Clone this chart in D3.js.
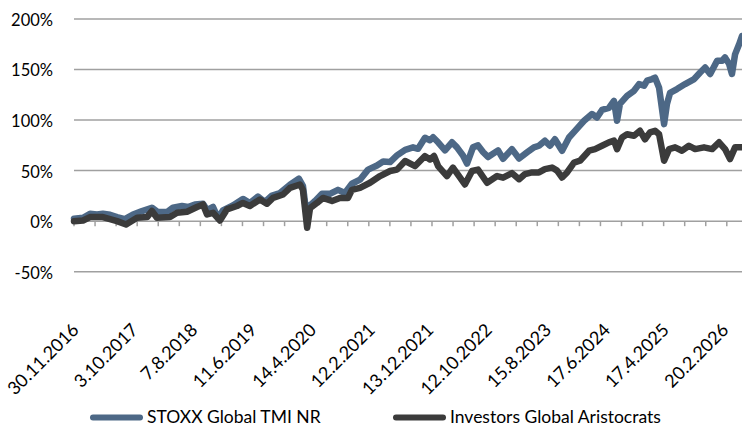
<!DOCTYPE html>
<html>
<head>
<meta charset="utf-8">
<script src="https://cdn.jsdelivr.net/npm/d3@7"></script>
<style>
  html, body { margin: 0; padding: 0; background: #ffffff; }
  svg { display: block; }
  text { font-family: Lato, "Open Sans", sans-serif; fill: #000; }
</style>
</head>
<body>
<div id="chart"></div>
<script>
// ---------- data (cumulative return, %) ----------
const stoxxDates = [
  "2016-11-30","2017-01-16","2017-02-21","2017-03-29","2017-04-29","2017-06-05","2017-07-11","2017-08-21",
  "2017-10-02","2017-11-18","2018-01-08","2018-02-08","2018-03-27","2018-04-27","2018-06-13","2018-07-14",
  "2018-08-19","2018-09-30","2018-10-21","2018-11-21","2018-12-17","2019-01-11","2019-03-04","2019-04-25",
  "2019-05-31","2019-07-12","2019-08-17","2019-09-23","2019-11-03","2019-12-25","2020-02-09","2020-03-01",
  "2020-03-23","2020-04-07","2020-05-03","2020-06-08","2020-07-19","2020-08-30","2020-10-05","2020-11-10",
  "2020-12-22","2021-02-02","2021-03-20","2021-04-21","2021-05-27","2021-07-02","2021-08-13","2021-09-23",
  "2021-10-19","2021-11-24","2021-12-20","2022-01-05","2022-01-31","2022-03-08","2022-04-13","2022-05-09",
  "2022-06-09","2022-06-30","2022-07-31","2022-08-26","2022-09-21","2022-10-17","2022-12-08","2023-01-03",
  "2023-02-18","2023-03-27","2023-05-07","2023-06-12","2023-07-08","2023-08-08","2023-09-03","2023-09-29",
  "2023-11-05","2023-12-11","2024-01-11","2024-02-27","2024-04-08","2024-05-04","2024-05-30","2024-07-05",
  "2024-07-31","2024-08-16","2024-08-31","2024-10-07","2024-11-12","2024-12-08","2025-01-03","2025-01-19",
  "2025-02-14","2025-03-01","2025-03-22","2025-04-17","2025-05-02","2025-05-18","2025-06-23","2025-08-04",
  "2025-09-20","2025-10-21","2025-11-16","2025-12-12","2026-01-17","2026-02-12","2026-02-27","2026-03-20",
  "2026-04-04","2026-04-20","2026-05-11","2026-05-26"
];
const stoxxValues = [
  2.4, 3.4, 7.3, 6.6, 7.3, 6.3, 4, 2,
  6.6, 10, 13.3, 9, 9, 13.3, 15, 14,
  16.5, 17.2, 11, 14, 3, 10.6, 15.5, 22,
  18, 24.4, 19, 25.4, 27.8, 36, 42, 35,
  2, 15.5, 20, 27, 27, 31, 27.8, 37,
  41, 51, 55, 59, 58.5, 65, 70.6, 73,
  71.6, 82.5, 80, 83, 78, 70, 78, 73,
  65, 57, 73, 75, 68.4, 63.4, 70, 61.7,
  71.3, 62, 68, 73, 74.6, 79.6, 74.6, 81,
  69.7, 82.8, 89.4, 99.3, 106, 102.6, 110, 112,
  119, 99.3, 116, 124, 129, 135.6, 134, 139,
  140.6, 142, 132, 96, 116, 127, 130.7, 135.6,
  140.6, 147, 152, 145.6, 158.7, 158.7, 162, 155.6,
  145.6, 165, 175, 183
];

const aristDates = [
  "2016-11-30","2017-01-16","2017-02-21","2017-04-29","2017-07-11","2017-08-27","2017-10-23","2017-12-14",
  "2018-01-08","2018-02-03","2018-04-12","2018-05-18","2018-07-09","2018-08-30","2018-09-30","2018-10-21",
  "2018-11-21","2018-12-27","2019-02-01","2019-03-25","2019-04-25","2019-05-31","2019-07-22","2019-08-27",
  "2019-09-28","2019-11-19","2019-12-25","2020-02-15","2020-03-01","2020-03-23","2020-04-07","2020-05-13",
  "2020-06-13","2020-07-30","2020-09-09","2020-10-21","2020-11-10","2020-12-22","2021-02-12","2021-04-05",
  "2021-05-27","2021-07-02","2021-08-13","2021-10-04","2021-11-24","2021-12-20","2022-01-10","2022-01-31",
  "2022-03-18","2022-04-18","2022-05-14","2022-06-19","2022-07-26","2022-08-26","2022-10-12","2022-12-03",
  "2023-01-03","2023-02-18","2023-03-27","2023-04-27","2023-06-02","2023-07-08","2023-08-08","2023-09-14",
  "2023-10-10","2023-11-05","2023-12-01","2024-01-06","2024-02-06","2024-03-24","2024-04-24","2024-05-30",
  "2024-07-05","2024-07-31","2024-08-16","2024-09-11","2024-10-07","2024-11-12","2024-12-13","2025-01-08",
  "2025-02-03","2025-03-01","2025-03-22","2025-04-17","2025-05-13","2025-06-13","2025-07-19","2025-08-24",
  "2025-09-25","2025-11-10","2025-12-22","2026-01-27","2026-02-27","2026-03-25","2026-04-20","2026-05-26"
];
const aristValues = [
  0, 0.7, 4, 4, 0, -3.3, 3.4, 4,
  10, 3.4, 4, 8.3, 9.3, 14, 16.5, 6.6,
  8.3, 0.7, 11.6, 15, 18, 15, 21.5, 17.2,
  23, 26.4, 33, 36.3, 31, -6.5, 13, 18,
  23, 20, 23, 23, 31, 33, 38, 44.6,
  49.6, 51, 59.5, 54.5, 64.4, 61, 64.4, 54.5,
  44.6, 53, 46, 36.3, 49.6, 51, 38, 44.6,
  43, 47.5, 41.5, 46.6, 48.2, 48.2, 51.5, 53,
  50, 43.2, 48.2, 58, 59.8, 69.7, 71.3, 74.6,
  78, 79.6, 71.3, 82.8, 86, 84.5, 89.4, 81,
  87.8, 89.4, 86, 59.8, 71.3, 73, 69.7, 74.6,
  71.3, 73, 71.3, 78, 71.3, 61.5, 73, 73
];

const seriesNames = ["STOXX Global TMI NR", "Investors Global Aristocrats"];
const seriesColors = ["#4d6886", "#3b3b3b"];

const xTickLabels = ["30.11.2016","3.10.2017","7.8.2018","11.6.2019","14.4.2020","12.2.2021",
  "13.12.2021","12.10.2022","15.8.2023","17.6.2024","17.4.2025","20.2.2026"];
const yTicks = [-50, 0, 50, 100, 150, 200];
const tickStepDays = 109.2;  // minor tick-mark spacing on the category axis

// ---------- setup ----------
const W = 742, H = 426;
const parseISO = d3.timeParse("%Y-%m-%d");
const parseDMY = d3.timeParse("%d.%m.%Y");

const svg = d3.select("#chart").append("svg").attr("width", W).attr("height", H);

const plot = { left: 74, right: 742, top: 19, bottom: 271.7 };

const startDate = parseISO(stoxxDates[0]);
const endDate = parseISO(stoxxDates[stoxxDates.length - 1]);

const x = d3.scaleTime().domain([startDate, endDate]).range([plot.left, plot.right]);
const y = d3.scaleLinear().domain([-50, 200]).range([plot.bottom, plot.top]);

// gridlines
svg.append("g").selectAll("line").data(yTicks).join("line")
  .attr("x1", plot.left).attr("x2", plot.right)
  .attr("y1", d => y(d)).attr("y2", d => y(d))
  .attr("stroke", "#a0a0a0").attr("stroke-width", 1.5);

// y labels
svg.append("g").selectAll("text").data(yTicks).join("text")
  .attr("x", 53).attr("y", d => y(d)).attr("dy", "0.42em")
  .attr("text-anchor", "end").attr("font-size", 16.5)
  .text(d => d + "%");

// tick marks on 0% axis
const tickDates = [];
for (let t = startDate.getTime(); t <= endDate.getTime(); t += tickStepDays * 864e5) tickDates.push(new Date(t));
svg.append("g").selectAll("line").data(tickDates).join("line")
  .attr("x1", d => x(d)).attr("x2", d => x(d))
  .attr("y1", y(0)).attr("y2", y(0) + 5)
  .attr("stroke", "#a0a0a0").attr("stroke-width", 1.5);

// lines
const line = d3.line().x(d => x(d[0])).y(d => y(d[1])).curve(d3.curveLinear);
const s1 = stoxxDates.map((d, i) => [parseISO(d), stoxxValues[i]]);
const s2 = aristDates.map((d, i) => [parseISO(d), aristValues[i]]);

svg.append("path").datum(s1).attr("d", line)
  .attr("fill", "none").attr("stroke", seriesColors[0]).attr("stroke-width", 6.5)
  .attr("stroke-linejoin", "round").attr("stroke-linecap", "round");
svg.append("path").datum(s2).attr("d", line)
  .attr("fill", "none").attr("stroke", seriesColors[1]).attr("stroke-width", 6.5)
  .attr("stroke-linejoin", "round").attr("stroke-linecap", "round");

// x labels
svg.append("g").selectAll("text").data(xTickLabels).join("text")
  .attr("transform", d => `translate(${x(parseDMY(d)) + 6},331) rotate(-45)`)
  .attr("text-anchor", "end").attr("font-size", 18)
  .text(d => d);

// legend
const legendX = [90, 393];
const lg = svg.append("g").selectAll("g").data(seriesNames).join("g")
  .attr("transform", (d, i) => `translate(${legendX[i]},417.5)`);
lg.append("line").attr("x1", 3).attr("x2", 50).attr("y1", 0).attr("y2", 0)
  .attr("stroke", (d, i) => seriesColors[i]).attr("stroke-width", 6).attr("stroke-linecap", "round");
lg.append("text").attr("x", 57).attr("y", 0).attr("dy", "0.32em")
  .attr("font-size", 17.5).text(d => d);
</script>
</body>
</html>
